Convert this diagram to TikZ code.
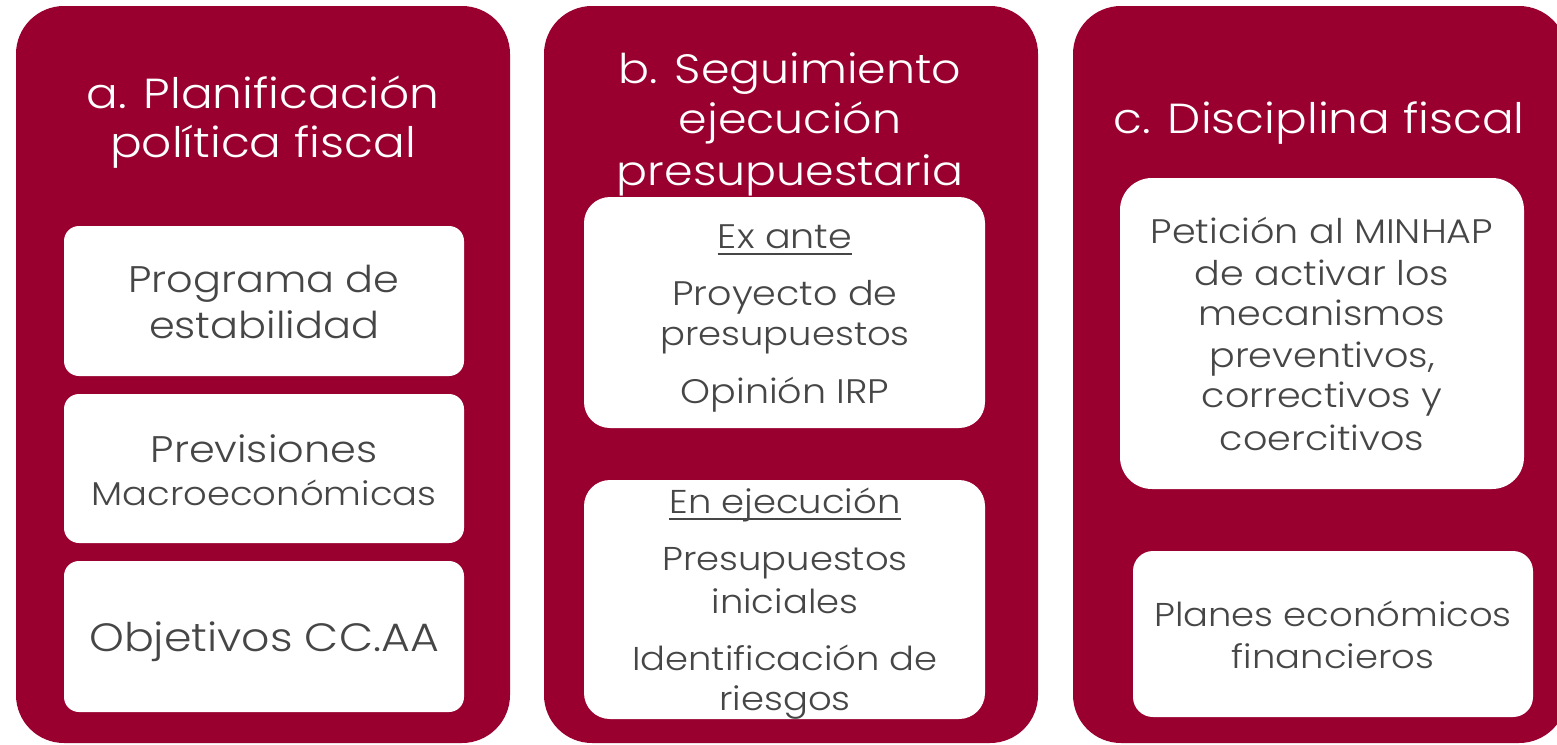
\documentclass[tikz,border=0pt]{standalone}
\usepackage{fontspec}
\IfFontExistsTF{Poppins Light}{\setmainfont{Poppins Light}[FakeStretch=1.12]}{\setmainfont{Poppins}[FakeStretch=1.12]}
\definecolor{panelred}{RGB}{153,0,48}
\definecolor{txtgray}{RGB}{70,70,70}
\begin{document}
\begin{tikzpicture}[x=1pt,y=-1pt,
  panel/.style={fill=panelred, rounded corners=48pt},
  card/.style={fill=white, rounded corners=#1}, card/.default=15pt,
  title/.style={text=white, anchor=base, inner sep=0pt, font=\fontsize{#1}{48}\selectfont}, title/.default=42,
  body/.style={text=txtgray, anchor=base, inner sep=0pt, font=\fontsize{#1}{#1}\selectfont}, body/.default=37,
  uline/.style={draw=txtgray, line width=2pt}]
\useasboundingbox (0,0) rectangle (1557,744);
\clip (0,0) rectangle (1557,744);
\fill[white] (0,0) rectangle (1557,744);
% panels
\fill[panel] (16,6) rectangle (510,743);
\fill[panel] (544,6) rectangle (1038,743);
\fill[panel] (1073,6) rectangle (1567,743);
% cards
\fill[card] (64,226) rectangle (464,376);
\fill[card] (64,394) rectangle (464,543);
\fill[card] (64,561) rectangle (464,712);
\fill[card=26pt] (584,197) rectangle (985,428);
\fill[card=26pt] (584,480) rectangle (985,719);
\fill[card=32pt] (1120,178) rectangle (1524,489);
\fill[card=20pt] (1133,551) rectangle (1533,717);
% titles
\node[title] (ta1) at (263,108) {a. Planificación};
\node[title] (ta2) at (263,157) {política fiscal};
\node[title=41] (tb1) at (790,83) {b. Seguimiento};
\node[title=41] (tb2) at (790,133) {ejecución};
\node[title=41] (tb3) at (790,185) {presupuestaria};
\node[title] (tc1) at (1319,133) {c. Disciplina fiscal};
% panel a
\node[body] (a11) at (264,292) {Programa de};
\node[body] (a12) at (264,338) {estabilidad};
\node[body] (a21) at (264,462) {Previsiones};
\node[body=33] (a22) at (264,505) {Macroeconómicas};
\node[body=39.5] (a31) at (264,651) {Objetivos CC.AA};
% panel b
\node[body=34] (b11) at (785,248) {Ex ante};
\draw[uline] ([yshift=-6pt]b11.base west) -- ([yshift=-6pt]b11.base east);
\node[body=34] (b12) at (785,305) {Proyecto de};
\node[body=33] (b13) at (785,345) {presupuestos};
\node[body=34] (b14) at (785,403) {Opinión IRP};
\node[body=33] (b21) at (785,513) {En ejecución};
\draw[uline] ([yshift=-6pt]b21.base west) -- ([yshift=-6pt]b21.base east);
\node[body=33] (b22) at (785,570) {Presupuestos};
\node[body=33] (b23) at (785,613) {iniciales};
\node[body=33] (b24) at (785,670) {Identificación de};
\node[body=33] (b25) at (785,710) {riesgos};
% panel c
\node[body=34] (c11) at (1322,243) {Petición al MINHAP};
\node[body=34] (c12) at (1322,285) {de activar los};
\node[body=34] (c13) at (1322,325) {mecanismos};
\node[body=34] (c14) at (1322,367) {preventivos,};
\node[body=34] (c15) at (1322,407) {correctivos y};
\node[body=34] (c16) at (1322,450) {coercitivos};
\node[body=33] (c21) at (1333,626) {Planes económicos};
\node[body=33] (c22) at (1333,668) {financieros};
\end{tikzpicture}
\end{document}
